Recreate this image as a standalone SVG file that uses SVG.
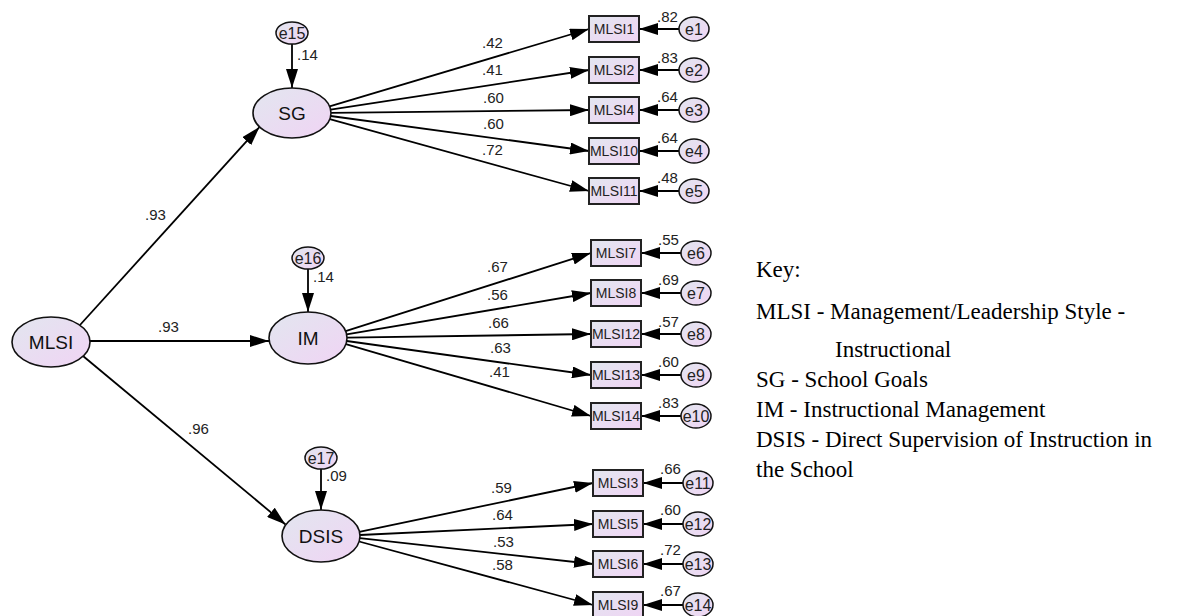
<svg xmlns="http://www.w3.org/2000/svg" width="1187" height="616" viewBox="0 0 1187 616">
  <defs>
    <linearGradient id="fillGrad" x1="0" y1="0" x2="1" y2="1">
      <stop offset="0" stop-color="#e2e6ef"/>
      <stop offset="1" stop-color="#f0d4f4"/>
    </linearGradient>
    <marker id="arrow" markerUnits="userSpaceOnUse" markerWidth="20" markerHeight="12" refX="19" refY="6" orient="auto">
      <path d="M0,0 L19,6 L0,12 z" fill="#000"/>
    </marker>
    <style>
      .lat { fill: url(#fillGrad); stroke: #111; stroke-width: 1.6; }
      .obs { fill: url(#fillGrad); stroke: #222; stroke-width: 2; }
      .err { fill: url(#fillGrad); stroke: #111; stroke-width: 1.5; }
      .latText { font-family: "Liberation Sans", Arial, sans-serif; font-size: 19px; fill: #111; text-anchor: middle; }
      .obsText { font-family: "Liberation Sans", Arial, sans-serif; font-size: 14px; fill: #222; text-anchor: middle; }
      .errText { font-family: "Liberation Sans", Arial, sans-serif; font-size: 16px; fill: #222; text-anchor: middle; }
      .num { font-family: "Liberation Sans", Arial, sans-serif; font-size: 15px; fill: #222; }
      .edge { stroke: #000; stroke-width: 1.8; fill: none; marker-end: url(#arrow); }
      .key { font-family: "Liberation Serif", "Times New Roman", serif; font-size: 23px; fill: #000; }
    </style>
  </defs>

  <rect width="1187" height="616" fill="#fff"/>

  <!-- paths -->
  <g id="connectors">
    <!-- second-order loadings -->
    <line class="edge" x1="80" y1="325" x2="259.5" y2="127"/>
    <line class="edge" x1="90" y1="341" x2="269" y2="341"/>
    <line class="edge" x1="83" y1="356" x2="285.5" y2="524.5"/>
    <!-- disturbances -->
    <line class="edge" x1="292" y1="44" x2="292" y2="88"/>
    <line class="edge" x1="308" y1="269" x2="308" y2="312"/>
    <line class="edge" x1="321" y1="469" x2="321" y2="510"/>
    <!-- SG indicators -->
    <line class="edge" x1="329.6" y1="106.3" x2="589" y2="29"/>
    <line class="edge" x1="330.6" y1="109.6" x2="589" y2="70"/>
    <line class="edge" x1="331" y1="112.8" x2="589" y2="110"/>
    <line class="edge" x1="330.7" y1="116" x2="589" y2="151"/>
    <line class="edge" x1="329.8" y1="119.2" x2="589" y2="191"/>
    <!-- IM indicators -->
    <line class="edge" x1="345.6" y1="331.2" x2="591" y2="253"/>
    <line class="edge" x1="346.6" y1="334.4" x2="591" y2="293"/>
    <line class="edge" x1="347" y1="337.7" x2="591" y2="334"/>
    <line class="edge" x1="346.7" y1="341" x2="591" y2="375"/>
    <line class="edge" x1="345.9" y1="344.2" x2="591" y2="416"/>
    <!-- DSIS indicators -->
    <line class="edge" x1="359.3" y1="531.8" x2="593" y2="483"/>
    <line class="edge" x1="360" y1="535" x2="593" y2="524"/>
    <line class="edge" x1="359.9" y1="538.2" x2="593" y2="564"/>
    <line class="edge" x1="359.1" y1="541.5" x2="593" y2="605"/>
    <!-- measurement errors -->
    <line class="edge" x1="679" y1="29" x2="639" y2="29"/>
    <line class="edge" x1="679" y1="70" x2="639" y2="70"/>
    <line class="edge" x1="679" y1="110" x2="639" y2="110"/>
    <line class="edge" x1="679" y1="151" x2="639" y2="151"/>
    <line class="edge" x1="679" y1="191" x2="639" y2="191"/>
    <line class="edge" x1="681" y1="253" x2="641" y2="253"/>
    <line class="edge" x1="681" y1="293" x2="641" y2="293"/>
    <line class="edge" x1="681" y1="334" x2="641" y2="334"/>
    <line class="edge" x1="681" y1="375" x2="641" y2="375"/>
    <line class="edge" x1="681" y1="416" x2="641" y2="416"/>
    <line class="edge" x1="683" y1="483" x2="643" y2="483"/>
    <line class="edge" x1="683" y1="524" x2="643" y2="524"/>
    <line class="edge" x1="683" y1="564" x2="643" y2="564"/>
    <line class="edge" x1="683" y1="605" x2="643" y2="605"/>

    <!-- path coefficients -->
    <text class="num" x="145" y="220">.93</text>
    <text class="num" x="158" y="332">.93</text>
    <text class="num" x="188" y="434">.96</text>
    <text class="num" x="297" y="60">.14</text>
    <text class="num" x="313" y="282">.14</text>
    <text class="num" x="326" y="481">.09</text>

    <text class="num" x="482" y="48">.42</text>
    <text class="num" x="482" y="75">.41</text>
    <text class="num" x="483" y="103">.60</text>
    <text class="num" x="483" y="129">.60</text>
    <text class="num" x="482" y="155">.72</text>

    <text class="num" x="487" y="272">.67</text>
    <text class="num" x="487" y="300">.56</text>
    <text class="num" x="488" y="328">.66</text>
    <text class="num" x="490" y="353">.63</text>
    <text class="num" x="489" y="377">.41</text>

    <text class="num" x="491" y="493">.59</text>
    <text class="num" x="492" y="520">.64</text>
    <text class="num" x="493" y="547">.53</text>
    <text class="num" x="492" y="570">.58</text>

    <text class="num" x="657" y="22">.82</text>
    <text class="num" x="657" y="63">.83</text>
    <text class="num" x="657" y="102">.64</text>
    <text class="num" x="657" y="143">.64</text>
    <text class="num" x="657" y="183">.48</text>

    <text class="num" x="658" y="245">.55</text>
    <text class="num" x="658" y="285">.69</text>
    <text class="num" x="658" y="327">.57</text>
    <text class="num" x="658" y="367">.60</text>
    <text class="num" x="658" y="408">.83</text>

    <text class="num" x="660" y="474">.66</text>
    <text class="num" x="660" y="515">.60</text>
    <text class="num" x="660" y="555">.72</text>
    <text class="num" x="660" y="596">.67</text>
  </g>

  <!-- latent variables -->
  <g id="MLSI">
    <ellipse class="lat" cx="51" cy="342" rx="39" ry="25"/>
    <text class="latText" x="51" y="349">MLSI</text>
  </g>
  <g id="SG">
    <ellipse class="lat" cx="292" cy="113" rx="39" ry="25"/>
    <text class="latText" x="292" y="120">SG</text>
  </g>
  <g id="IM">
    <ellipse class="lat" cx="308" cy="338" rx="39" ry="26"/>
    <text class="latText" x="308" y="345">IM</text>
  </g>
  <g id="DSIS">
    <ellipse class="lat" cx="321" cy="536" rx="39" ry="26"/>
    <text class="latText" x="321" y="543">DSIS</text>
  </g>

  <!-- disturbance terms -->
  <g id="e15">
    <ellipse class="err" cx="292" cy="33" rx="16" ry="11"/>
    <text class="errText" x="292" y="39">e15</text>
  </g>
  <g id="e16">
    <ellipse class="err" cx="308" cy="258" rx="16" ry="11"/>
    <text class="errText" x="308" y="264">e16</text>
  </g>
  <g id="e17">
    <ellipse class="err" cx="321" cy="458" rx="16" ry="11"/>
    <text class="errText" x="321" y="464">e17</text>
  </g>

  <!-- observed indicators -->
  <g id="MLSI1"><rect class="obs" x="589" y="16" width="50" height="26"/><text class="obsText" x="614" y="34">MLSI1</text></g>
  <g id="MLSI2"><rect class="obs" x="589" y="57" width="50" height="26"/><text class="obsText" x="614" y="75">MLSI2</text></g>
  <g id="MLSI4"><rect class="obs" x="589" y="97" width="50" height="26"/><text class="obsText" x="614" y="115">MLSI4</text></g>
  <g id="MLSI10"><rect class="obs" x="589" y="138" width="50" height="26"/><text class="obsText" x="614" y="156">MLSI10</text></g>
  <g id="MLSI11"><rect class="obs" x="589" y="178" width="50" height="26"/><text class="obsText" x="614" y="196">MLSI11</text></g>

  <g id="MLSI7"><rect class="obs" x="591" y="240" width="50" height="26"/><text class="obsText" x="616" y="258">MLSI7</text></g>
  <g id="MLSI8"><rect class="obs" x="591" y="280" width="50" height="26"/><text class="obsText" x="616" y="298">MLSI8</text></g>
  <g id="MLSI12"><rect class="obs" x="591" y="321" width="50" height="26"/><text class="obsText" x="616" y="339">MLSI12</text></g>
  <g id="MLSI13"><rect class="obs" x="591" y="362" width="50" height="26"/><text class="obsText" x="616" y="380">MLSI13</text></g>
  <g id="MLSI14"><rect class="obs" x="591" y="403" width="50" height="26"/><text class="obsText" x="616" y="421">MLSI14</text></g>

  <g id="MLSI3"><rect class="obs" x="593" y="470" width="50" height="26"/><text class="obsText" x="618" y="488">MLSI3</text></g>
  <g id="MLSI5"><rect class="obs" x="593" y="511" width="50" height="26"/><text class="obsText" x="618" y="529">MLSI5</text></g>
  <g id="MLSI6"><rect class="obs" x="593" y="551" width="50" height="26"/><text class="obsText" x="618" y="569">MLSI6</text></g>
  <g id="MLSI9"><rect class="obs" x="593" y="592" width="50" height="26"/><text class="obsText" x="618" y="610">MLSI9</text></g>

  <!-- measurement error terms -->
  <g id="e1"><ellipse class="err" cx="694" cy="29" rx="15" ry="12"/><text class="errText" x="694" y="35">e1</text></g>
  <g id="e2"><ellipse class="err" cx="694" cy="70" rx="15" ry="12"/><text class="errText" x="694" y="76">e2</text></g>
  <g id="e3"><ellipse class="err" cx="694" cy="110" rx="15" ry="12"/><text class="errText" x="694" y="116">e3</text></g>
  <g id="e4"><ellipse class="err" cx="694" cy="151" rx="15" ry="12"/><text class="errText" x="694" y="157">e4</text></g>
  <g id="e5"><ellipse class="err" cx="694" cy="191" rx="15" ry="12"/><text class="errText" x="694" y="197">e5</text></g>

  <g id="e6"><ellipse class="err" cx="696" cy="253" rx="15" ry="12"/><text class="errText" x="696" y="259">e6</text></g>
  <g id="e7"><ellipse class="err" cx="696" cy="293" rx="15" ry="12"/><text class="errText" x="696" y="299">e7</text></g>
  <g id="e8"><ellipse class="err" cx="696" cy="334" rx="15" ry="12"/><text class="errText" x="696" y="340">e8</text></g>
  <g id="e9"><ellipse class="err" cx="696" cy="375" rx="15" ry="12"/><text class="errText" x="696" y="381">e9</text></g>
  <g id="e10"><ellipse class="err" cx="696" cy="416" rx="15" ry="12"/><text class="errText" x="696" y="422">e10</text></g>

  <g id="e11"><ellipse class="err" cx="698" cy="483" rx="15" ry="12"/><text class="errText" x="698" y="489">e11</text></g>
  <g id="e12"><ellipse class="err" cx="698" cy="524" rx="15" ry="12"/><text class="errText" x="698" y="530">e12</text></g>
  <g id="e13"><ellipse class="err" cx="698" cy="564" rx="15" ry="12"/><text class="errText" x="698" y="570">e13</text></g>
  <g id="e14"><ellipse class="err" cx="698" cy="605" rx="15" ry="12"/><text class="errText" x="698" y="611">e14</text></g>

  <!-- legend -->
  <g id="key">
    <text class="key" x="756" y="277">Key:</text>
    <text class="key" x="756" y="319">MLSI - Management/Leadership Style -</text>
    <text class="key" x="835" y="357">Instructional</text>
    <text class="key" x="756" y="387">SG - School Goals</text>
    <text class="key" x="756" y="417">IM - Instructional Management</text>
    <text class="key" x="756" y="447">DSIS - Direct Supervision of Instruction in</text>
    <text class="key" x="756" y="477">the School</text>
  </g>
</svg>
